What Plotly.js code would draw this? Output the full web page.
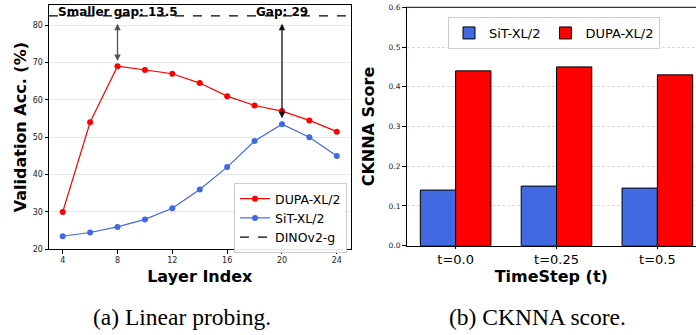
<!DOCTYPE html>
<html>
<head>
<meta charset="utf-8">
<script src="https://cdn.plot.ly/plotly-3.0.1.min.js"></script>
<style>html,body{margin:0;padding:0;background:#fff;}#chart{width:696px;height:335px;}</style>
</head>
<body>
<div id="chart"></div>
<script>
// ---- Data (a) Linear probing ----
const layers = [4, 6, 8, 10, 12, 14, 16, 18, 20, 22, 24];
const dupaAcc = [30, 54, 69, 68, 67, 64.5, 61, 58.5, 57, 54.5, 51.5];
const sitAcc = [23.5, 24.5, 26, 28, 31, 36, 42, 49, 53.5, 50, 45];
const dinoAcc = 82.5;
const layerTicks = [4, 8, 12, 16, 20, 24];
const gapLabels = ["Smaller gap: 13.5", "Gap: 29"];
const gapLayers = [8, 20];

// ---- Data (b) CKNNA score ----
const timesteps = ["t=0.0", "t=0.25", "t=0.5"];
const sitCknna = [0.14, 0.15, 0.145];
const dupaCknna = [0.44, 0.45, 0.43];

const W = 696, H = 335;
const px = v => v / W, py = v => 1 - v / H;
const xRange1 = [3, 25];

const font = "DejaVu Sans, Verdana, sans-serif";

const traces = [
  {x: layers, y: dupaAcc, name: "DUPA-XL/2", type: "scatter", mode: "lines+markers",
   line: {color: "#ff0000", width: 1.2}, marker: {color: "#ff0000", size: 6},
   xaxis: "x", yaxis: "y", legend: "legend"},
  {x: layers, y: sitAcc, name: "SiT-XL/2", type: "scatter", mode: "lines+markers",
   line: {color: "#4169e1", width: 1.2}, marker: {color: "#4169e1", size: 6},
   xaxis: "x", yaxis: "y", legend: "legend"},
  {x: xRange1, y: [dinoAcc, dinoAcc], name: "DINOv2-g", type: "scatter", mode: "lines",
   line: {color: "#000", width: 1.2, dash: "dash"},
   xaxis: "x", yaxis: "y", legend: "legend"},
  {x: timesteps, y: sitCknna, name: "SiT-XL/2", type: "bar",
   marker: {color: "#4169e1", line: {color: "#000", width: 1}},
   xaxis: "x2", yaxis: "y2", legend: "legend2"},
  {x: timesteps, y: dupaCknna, name: "DUPA-XL/2", type: "bar",
   marker: {color: "#ff0000", line: {color: "#000", width: 1}},
   xaxis: "x2", yaxis: "y2", legend: "legend2"}
];

const gapTargets = gapLayers.map(l => {
  const i = layers.indexOf(l);
  return l === 8 ? dupaAcc[i] : sitAcc[i];
});

const annotations = [
  {x: gapLayers[0], y: 83.6, xref: "x", yref: "y", text: "<b>" + gapLabels[0] + "</b>",
   showarrow: false, font: {family: font, size: 12, color: "#000"}, yanchor: "middle"},
  {x: gapLayers[1], y: 83.6, xref: "x", yref: "y", text: "<b>" + gapLabels[1] + "</b>",
   showarrow: false, font: {family: font, size: 12, color: "#000"}, yanchor: "middle"},
  {x: gapLayers[0], y: gapTargets[0] + 1.4, ax: gapLayers[0], ay: dinoAcc - 1.7,
   xref: "x", yref: "y", axref: "x", ayref: "y", text: "", showarrow: true,
   arrowside: "end+start", arrowhead: 2, arrowsize: 1, arrowwidth: 1.3, arrowcolor: "#555"},
  {x: gapLayers[1], y: gapTargets[1] + 1.6, ax: gapLayers[1], ay: dinoAcc - 1.7,
   xref: "x", yref: "y", axref: "x", ayref: "y", text: "", showarrow: true,
   arrowside: "end+start", arrowhead: 2, arrowsize: 1, arrowwidth: 1.3, arrowcolor: "#111"},
  {x: px(182), y: py(317), xref: "paper", yref: "paper", text: "(a) Linear probing.",
   showarrow: false, font: {family: "Liberation Serif, Times New Roman, serif", size: 23.5, color: "#000"},
   xanchor: "center", yanchor: "middle"},
  {x: px(537), y: py(317), xref: "paper", yref: "paper", text: "(b) CKNNA score.",
   showarrow: false, font: {family: "Liberation Serif, Times New Roman, serif", size: 23.5, color: "#000"},
   xanchor: "center", yanchor: "middle"}
];

const shapes = [
  {type: "line", xref: "x2 domain", yref: "y2 domain", x0: 0, x1: 1, y0: 1, y1: 1,
   line: {color: "#000", width: 1}}
];

const layout = {
  width: W, height: H,
  margin: {l: 0, r: 0, t: 0, b: 0},
  paper_bgcolor: "#fff", plot_bgcolor: "#fff",
  font: {family: font, color: "#000"},
  showlegend: true,
  barmode: "group", bargap: 0.3, bargroupgap: 0,
  xaxis: {
    domain: [px(49), px(350.5)], range: xRange1, tickvals: layerTicks,
    showline: true, mirror: true, linecolor: "#000", linewidth: 1,
    ticks: "outside", ticklen: 3.5, tickcolor: "#000", tickfont: {size: 8, color: "#222"},
    showgrid: false, zeroline: false, anchor: "y",
    title: {text: "<b>Layer Index</b>", font: {size: 16, color: "#000"}, standoff: 6}
  },
  yaxis: {
    domain: [py(249.3), py(5)], range: [20, 85.4], dtick: 10, tick0: 20,
    showline: true, mirror: true, linecolor: "#000", linewidth: 1,
    ticks: "outside", ticklen: 3.5, tickcolor: "#000", tickfont: {size: 8, color: "#222"},
    showgrid: true, gridcolor: "#e8e8e8", gridwidth: 1, zeroline: false, anchor: "x",
    title: {text: "<b>Validation Acc. (%)</b>", font: {size: 16, color: "#000"}, standoff: 2}
  },
  xaxis2: {
    domain: [px(406.5), 1], range: [-0.487, 2.383], type: "category",
    showline: true, mirror: false, linecolor: "#000", linewidth: 1,
    ticks: "outside", ticklen: 2, tickcolor: "#000", tickfont: {size: 13, color: "#000"},
    showgrid: false, zeroline: false, anchor: "y2",
    title: {text: "<b>TimeStep (t)</b>", font: {size: 16, color: "#000"}, standoff: 0}
  },
  yaxis2: {
    domain: [py(245.7), py(7.3)], range: [0, 0.6], dtick: 0.1, tick0: 0, tickformat: ".1f",
    showline: true, mirror: false, linecolor: "#000", linewidth: 1,
    ticks: "outside", ticklen: 3.5, tickcolor: "#000", tickfont: {size: 7.5, color: "#222"},
    showgrid: true, gridcolor: "#d9d9d9", griddash: "3px,2px", gridwidth: 1, zeroline: false, anchor: "x2",
    title: {text: "<b>CKNNA Score</b>", font: {size: 16, color: "#000"}, standoff: 9}
  },
  legend: {
    x: px(347), y: py(183), xanchor: "right", yanchor: "top",
    bgcolor: "rgba(255,255,255,0.9)", bordercolor: "#cccccc", borderwidth: 1,
    font: {size: 12.5, color: "#000"}, tracegroupgap: 0, itemwidth: 30
  },
  legend2: {
    x: px(448), y: py(17), xanchor: "left", yanchor: "top", orientation: "h",
    bgcolor: "rgba(255,255,255,0.9)", bordercolor: "#cccccc", borderwidth: 1,
    font: {size: 13, color: "#000"}, itemwidth: 30
  },
  annotations: annotations,
  shapes: shapes
};

Plotly.newPlot("chart", traces, layout, {staticPlot: true, displayModeBar: false});
</script>
</body>
</html>
